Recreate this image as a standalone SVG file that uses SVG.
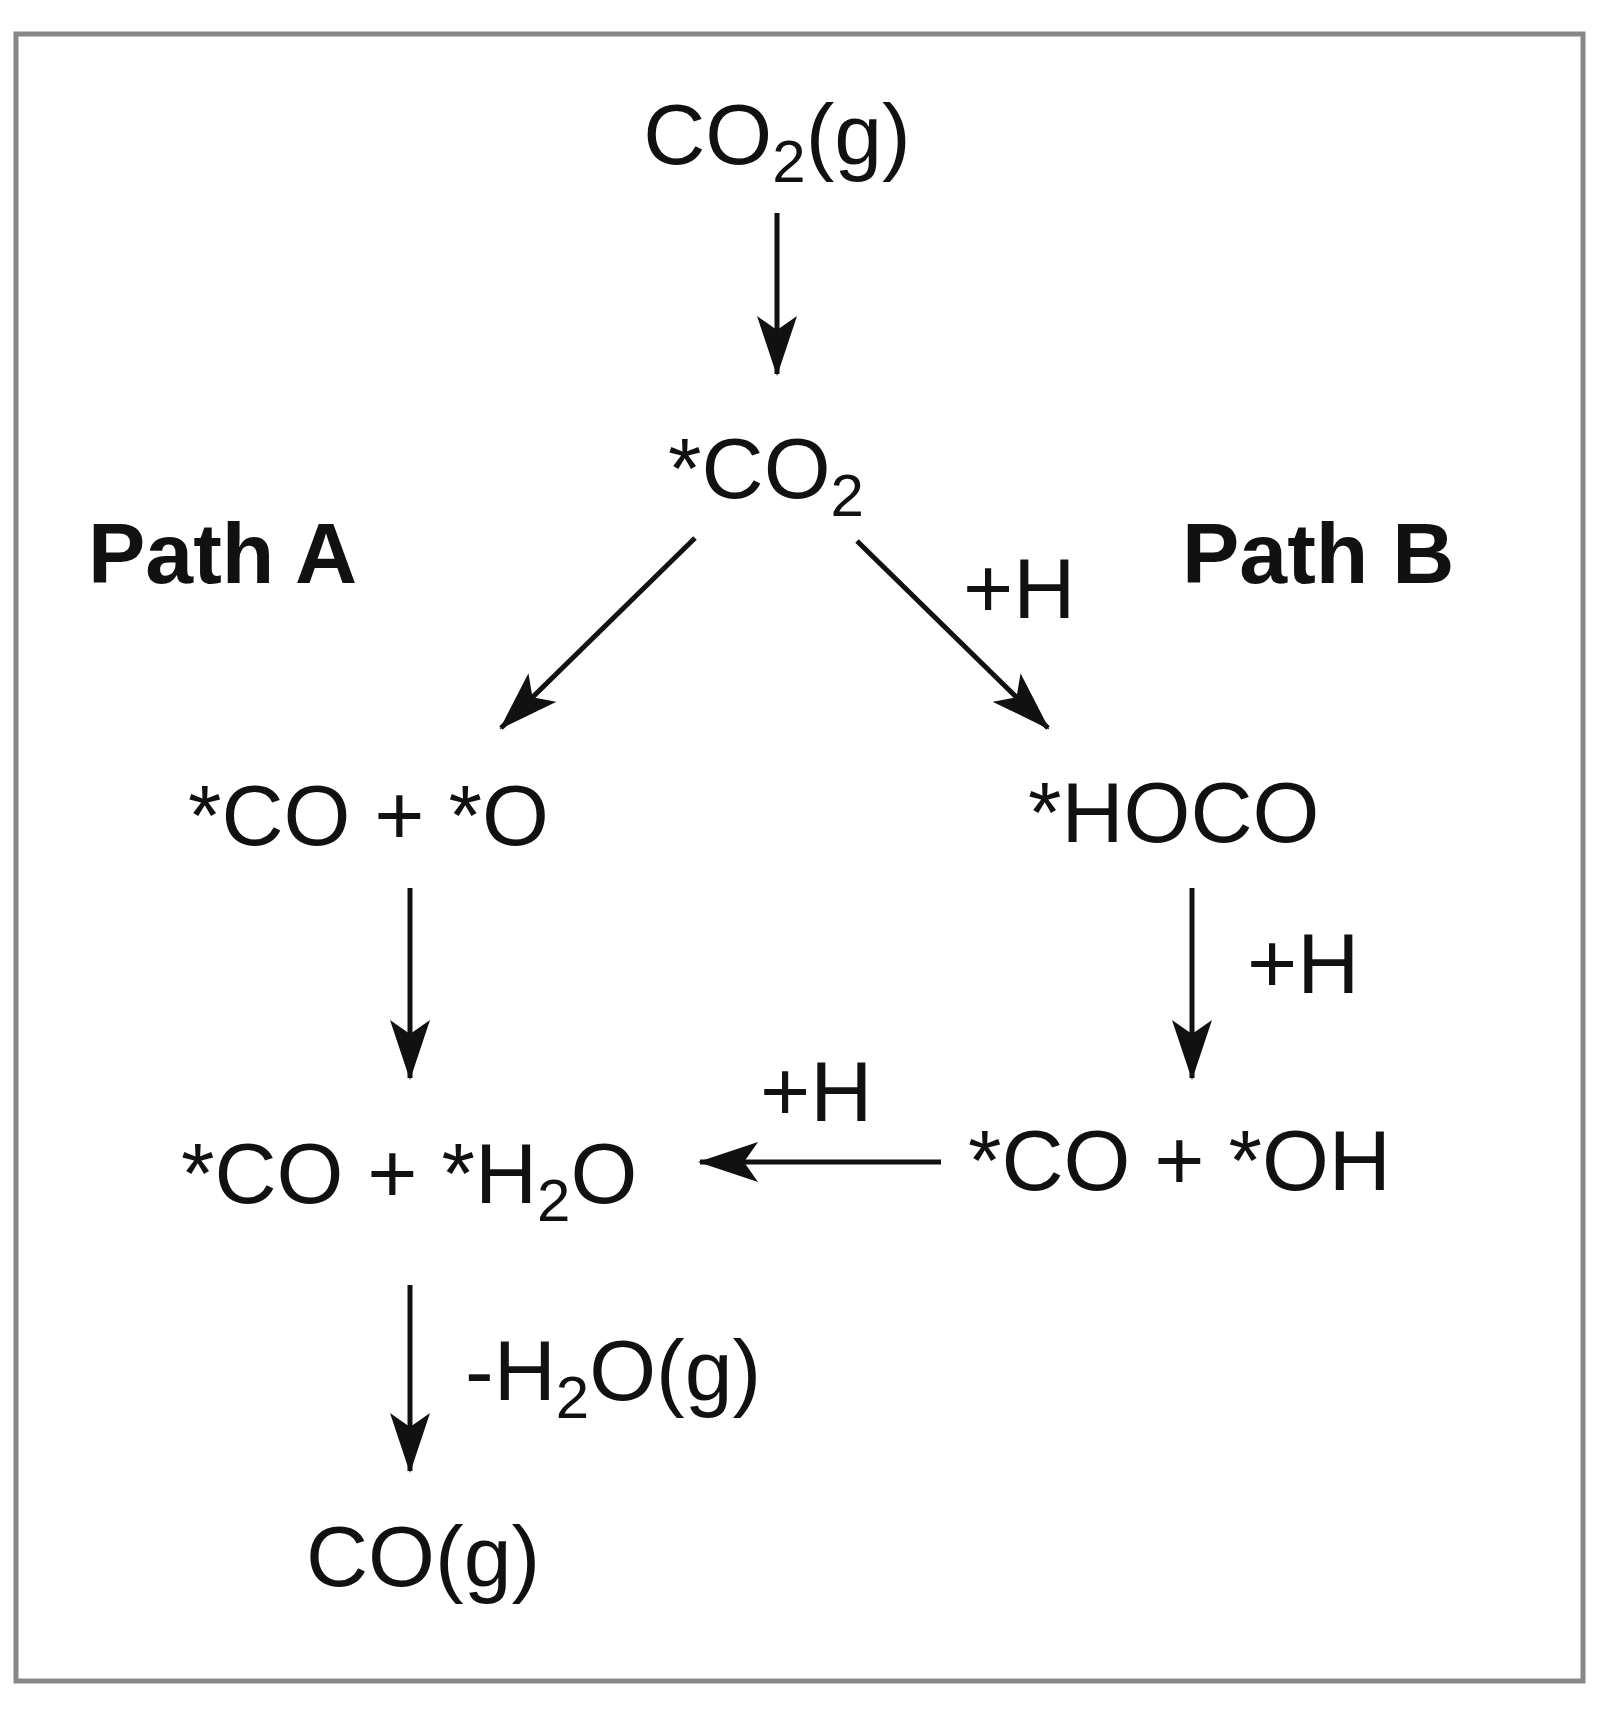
<svg xmlns="http://www.w3.org/2000/svg" width="1597" height="1712" viewBox="0 0 1597 1712">
<style>
text{font-family:"Liberation Sans",Arial,sans-serif;font-size:86px;fill:#111}
.b{font-weight:bold}
.c line{stroke:#111;stroke-width:5}
</style>
<defs><marker id="a" markerUnits="userSpaceOnUse" markerWidth="60" markerHeight="40" refX="58" refY="20" orient="auto"><path d="M0,0 L60,20 L0,40 L14,20 Z" fill="#111"/></marker></defs>
<rect x="0" y="0" width="1597" height="1712" fill="#fff"/>
<rect x="16" y="34" width="1567" height="1647" fill="none" stroke="#888" stroke-width="5"/>
<g class="c">
<line x1="777" y1="213" x2="777" y2="374" marker-end="url(#a)"/>
<line x1="695" y1="538" x2="501" y2="728" marker-end="url(#a)"/>
<line x1="857" y1="541" x2="1048" y2="728" marker-end="url(#a)"/>
<line x1="410" y1="888" x2="410" y2="1078" marker-end="url(#a)"/>
<line x1="1192" y1="888" x2="1192" y2="1078" marker-end="url(#a)"/>
<line x1="941" y1="1162" x2="700" y2="1162" marker-end="url(#a)"/>
<line x1="410" y1="1285" x2="410" y2="1471" marker-end="url(#a)"/>
</g>
<g id="n1"><text x="777" y="164" text-anchor="middle">CO<tspan font-size="60" dy="18">2</tspan><tspan dy="-18">(g)</tspan></text></g>
<g id="n2"><text x="766" y="498" text-anchor="middle">*CO<tspan font-size="60" dy="18">2</tspan></text></g>
<g id="lA"><text class="b" x="88" y="583">Path A</text></g>
<g id="lB"><text class="b" x="1182" y="583">Path B</text></g>
<g id="l1"><text x="963" y="618">+H</text></g>
<g id="n3"><text x="188" y="845">*CO + *O</text></g>
<g id="n4"><text x="1028" y="842">*HOCO</text></g>
<g id="l2"><text x="1247" y="993">+H</text></g>
<g id="l3"><text x="760" y="1121">+H</text></g>
<g id="n5"><text x="181" y="1203">*CO + *H<tspan font-size="60" dy="18">2</tspan><tspan dy="-18">O</tspan></text></g>
<g id="n6"><text x="968" y="1190">*CO + *OH</text></g>
<g id="l4"><text x="465" y="1400">-H<tspan font-size="60" dy="18">2</tspan><tspan dy="-18">O(g)</tspan></text></g>
<g id="n7"><text x="306" y="1586">CO(g)</text></g>
</svg>
